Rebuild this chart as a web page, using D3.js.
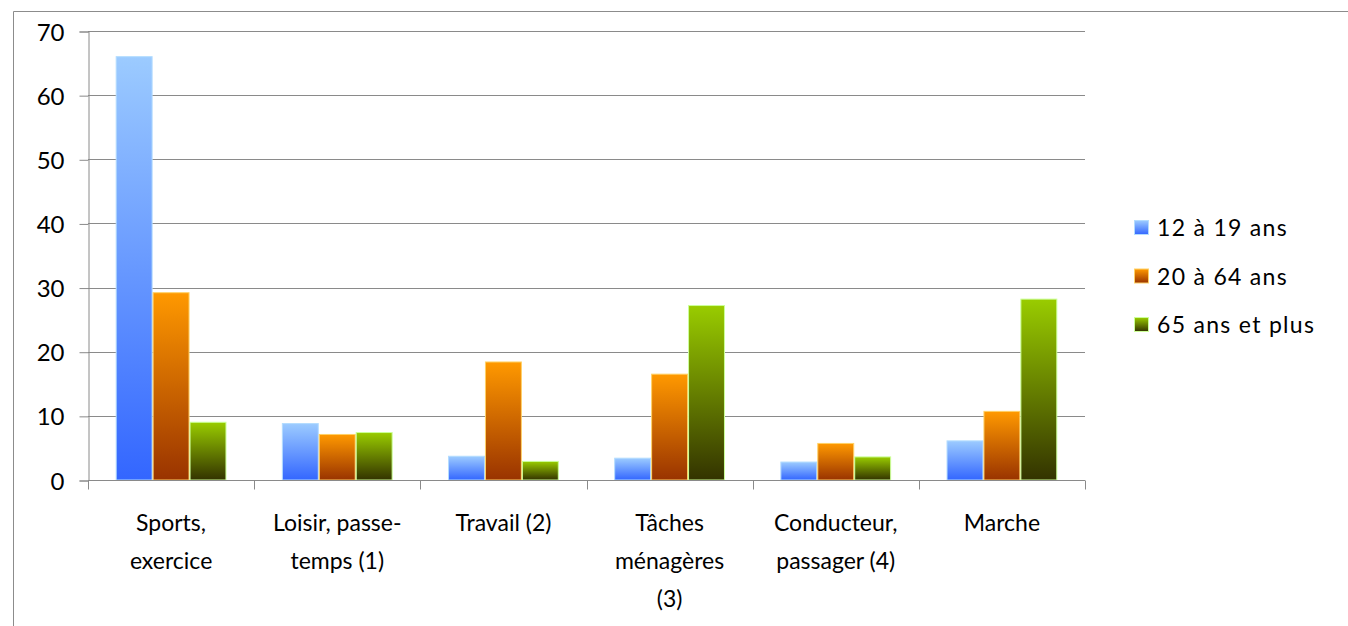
<!DOCTYPE html>
<html>
<head>
<meta charset="utf-8">
<script src="https://cdn.jsdelivr.net/npm/d3@7"></script>
<style>
  body { margin: 0; background: #fff; }
  text { font-family: Lato, "Open Sans", sans-serif; fill: #000; }
</style>
</head>
<body>
<div id="chart"></div>
<script>
// categories and series
var categories = ["Sports, exercice", "Loisir, passe-temps (1)", "Travail (2)",
                  "Tâches ménagères (3)", "Conducteur, passager (4)", "Marche"];
var categoryLines = [["Sports,", "exercice"], ["Loisir, passe-", "temps (1)"], ["Travail (2)"],
                     ["Tâches", "ménagères", "(3)"], ["Conducteur,", "passager (4)"], ["Marche"]];
var seriesNames = ["12 à 19 ans", "20 à 64 ans", "65 ans et plus"];
var teens  = [66, 8.8, 3.7, 3.4, 2.8, 6.1];
var adults = [29.2, 7.1, 18.4, 16.5, 5.7, 10.7];
var seniors = [9.0, 7.4, 2.9, 27.2, 3.6, 28.2];
var yTicks = [0, 10, 20, 30, 40, 50, 60, 70];

var seriesValues = [teens, adults, seniors];
// gradient top / bottom / edge colour per series
var grads = [
  {top: "#9ccbff", bottom: "#3366ff", edge: "#b3dcff"},
  {top: "#ff9900", bottom: "#993300", edge: "#ffd166"},
  {top: "#99cc00", bottom: "#333300", edge: "#ccff99"}
];

var W = 1348, H = 626;
var margin = {top: 31, right: 263, bottom: 146, left: 88};

var svg = d3.select("#chart").append("svg")
    .attr("width", W)
    .attr("height", H);

// outer chart frame (cut off at right/bottom)
svg.append("path")
    .attr("d", "M13.5," + H + "V11.5H" + W)
    .attr("fill", "none")
    .attr("stroke", "#8c8c8c");

var defs = svg.append("defs");
grads.forEach(function(g, i) {
  var lg = defs.append("linearGradient")
      .attr("id", "grad" + i)
      .attr("x1", 0).attr("y1", 0).attr("x2", 0).attr("y2", 1);
  lg.append("stop").attr("offset", "0%").attr("stop-color", g.top);
  lg.append("stop").attr("offset", "100%").attr("stop-color", g.bottom);
});

var x0 = d3.scaleBand()
    .domain(categories)
    .range([margin.left, W - margin.right]);

var x1 = d3.scaleBand()
    .domain(seriesNames)
    .range([0, x0.bandwidth()])
    .paddingOuter(0.75);

var y = d3.scaleLinear()
    .domain([0, 70])
    .range([H - margin.bottom, margin.top]);

// gridlines
svg.append("g")
    .selectAll("line")
    .data(yTicks.slice(1))
    .enter()
    .append("line")
    .attr("x1", margin.left)
    .attr("x2", W - margin.right)
    .attr("y1", function(d) { return Math.round(y(d)) + 0.5; })
    .attr("y2", function(d) { return Math.round(y(d)) + 0.5; })
    .attr("stroke", "#8a8a8a");

// y axis
var yAxis = svg.append("g")
    .attr("transform", "translate(" + (margin.left + 0.5) + ",0.5)")
    .call(d3.axisLeft(y).tickValues(yTicks).tickSize(9).tickPadding(15));
yAxis.select(".domain").attr("stroke", "#8a8a8a");
yAxis.selectAll(".tick line").attr("stroke", "#8a8a8a");
yAxis.selectAll(".tick text")
    .style("font-size", "24px")
    .style("font-family", "Lato, sans-serif")
    .attr("fill", "#000")
    .attr("dy", "0.36em");

// bars
var groups = svg.append("g")
    .selectAll("g")
    .data(categories)
    .enter()
    .append("g")
    .attr("transform", function(d) { return "translate(" + x0(d) + ",0)"; });

groups.selectAll("rect")
    .data(function(d, ci) {
      return seriesNames.map(function(s, si) { return {s: s, si: si, v: seriesValues[si][ci]}; });
    })
    .enter()
    .append("rect")
    .attr("x", function(d) { return x1(d.s) + 0.5; })
    .attr("width", x1.bandwidth() - 1)
    .attr("y", function(d) { return y(d.v); })
    .attr("height", function(d) { return y(0) - y(d.v); })
    .attr("fill", function(d) { return "url(#grad" + d.si + ")"; })
    .attr("stroke", function(d) { return grads[d.si].edge; })
    .attr("stroke-width", 1);

// x axis with boundary ticks
var base = Math.round(y(0)) + 0.5;
var xa = svg.append("g");
xa.append("line")
    .attr("x1", margin.left).attr("x2", W - margin.right)
    .attr("y1", base).attr("y2", base)
    .attr("stroke", "#8a8a8a");
xa.selectAll(".bt")
    .data(categories.map(function(c) { return x0(c); }).concat([W - margin.right]))
    .enter()
    .append("line")
    .attr("class", "bt")
    .attr("x1", function(d) { return Math.round(d) + 0.5; })
    .attr("x2", function(d) { return Math.round(d) + 0.5; })
    .attr("y1", base).attr("y2", base + 9)
    .attr("stroke", "#8a8a8a");

// category labels, wrapped as in the original
var labels = svg.append("g")
    .selectAll("text")
    .data(categories)
    .enter()
    .append("text")
    .attr("text-anchor", "middle")
    .attr("x", function(d) { return x0(d) + x0.bandwidth() / 2; })
    .attr("y", 531)
    .style("font-size", "23px");
labels.each(function(d, i) {
  var t = d3.select(this);
  categoryLines[i].forEach(function(line, k) {
    t.append("tspan")
        .attr("x", x0(d) + x0.bandwidth() / 2)
        .attr("dy", k === 0 ? 0 : 38)
        .text(line);
  });
});

// legend
var legend = svg.append("g")
    .selectAll("g")
    .data(seriesNames)
    .enter()
    .append("g")
    .attr("transform", function(d, i) { return "translate(1134," + (228 + i * 48.5) + ")"; });
legend.append("rect")
    .attr("x", 0.5).attr("y", -7.5)
    .attr("width", 14).attr("height", 14)
    .attr("fill", function(d, i) { return "url(#grad" + i + ")"; })
    .attr("stroke", function(d, i) { return grads[i].edge; });
legend.append("text")
    .attr("x", 23)
    .attr("dy", "0.36em")
    .style("font-size", "23px")
    .style("letter-spacing", "1.3px")
    .text(function(d) { return d; });
</script>
</body>
</html>
